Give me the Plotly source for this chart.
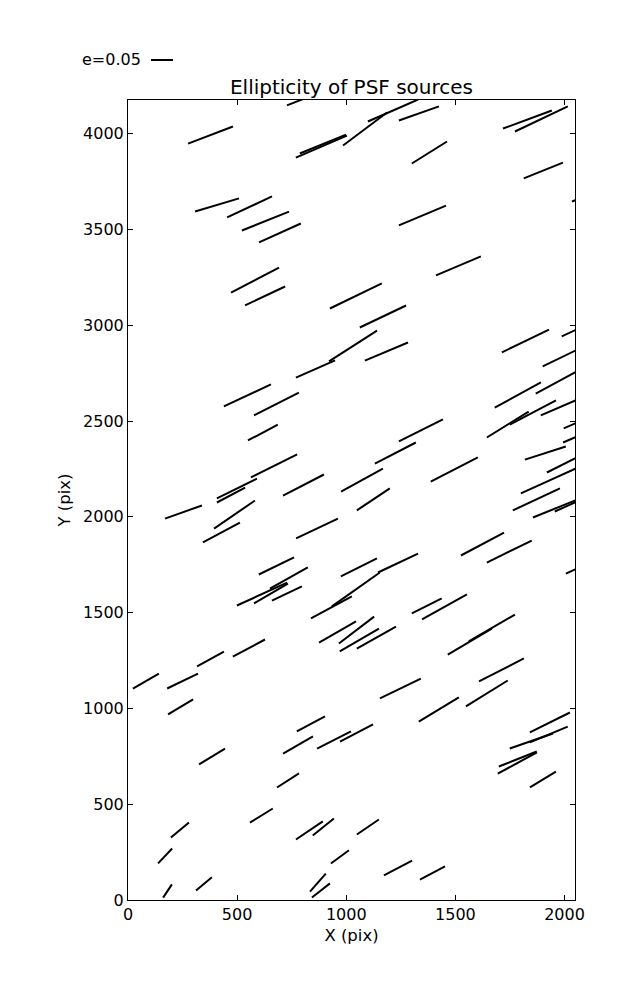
import plotly.graph_objects as go

# Source positions (pix) and ellipticity vector components (e*cos, e*sin of the whisker direction)
src_x = [378, 886, 893, 1086, 1214, 1333, 1830, 1894, 820, 1381, 1903, 2121, 408, 557, 630, 696, 1349,
         582, 628, 1044, 1514, 1168, 859, 1031, 1184, 1821, 2086, 2008, 1974, 1786, 1992, 1740, 1855,
         2079, 2089, 1912, 2020, 1931, 1871, 1958, 2047, 1342, 1225, 1072, 1124, 1495, 547, 680, 618,
         669, 472, 499, 804, 254, 488, 428, 866, 680, 614, 737, 655, 728, 1058, 932, 1044, 1237, 960,
         1047, 1060, 1138, 1369, 1450, 1566, 1667, 1624, 1747, 2098, 82, 250, 378, 554, 241, 1248,
         1711, 1424, 1644, 385, 838, 779, 944, 1047, 733, 611, 238, 170, 831, 895, 971, 181, 348, 870,
         884, 1933, 1848, 1928, 1786, 1784, 1901, 1099, 1237, 1395]
src_y = [3993, 3933, 3946, 4025, 4121, 4106, 4074, 4077, 4189, 3902, 3808, 3685, 3628, 3618, 3544, 3482,
         3573, 3236, 3153, 3153, 3310, 3046, 2772, 2892, 2863, 2918, 2994, 2845, 2709, 2636, 2579, 2482,
         2545, 2503, 2435, 2333, 2289, 2190, 2091, 2044, 2075, 2451, 2333, 2192, 2091, 2247, 2634, 2589,
         2440, 2266, 2114, 2148, 2166, 2025, 2012, 1918, 1939, 1744, 1597, 1681, 1600, 1600, 1736, 1527,
         1621, 1759, 1399, 1409, 1357, 1370, 1535, 1530, 1349, 1420, 1858, 1819, 1751, 1143, 1143, 1258,
         1315, 1008, 1104, 1201, 994, 1078, 749, 919, 809, 835, 872, 624, 441, 365, 230, 363, 381, 225,
         47, 84, 91, 50, 927, 830, 864, 736, 715, 629, 381, 167, 141]
e_x = [0.102, 0.116, 0.105, 0.100, 0.114, 0.091, 0.111, 0.120, 0.091, 0.080, 0.089, 0.086, 0.100, 0.102,
       0.107, 0.095, 0.107, 0.109, 0.091, 0.118, 0.102, 0.105, 0.089, 0.109, 0.098, 0.107, 0.098, 0.107,
       0.105, 0.105, 0.100, 0.095, 0.105, 0.082, 0.095, 0.093, 0.100, 0.130, 0.107, 0.102, 0.091, 0.100,
       0.093, 0.095, 0.075, 0.107, 0.107, 0.102, 0.068, 0.105, 0.064, 0.091, 0.093, 0.084, 0.093, 0.084,
       0.095, 0.080, 0.114, 0.086, 0.077, 0.068, 0.082, 0.093, 0.109, 0.091, 0.084, 0.080, 0.089, 0.089,
       0.068, 0.102, 0.100, 0.105, 0.098, 0.102, 0.091, 0.059, 0.070, 0.061, 0.073, 0.057, 0.093, 0.102,
       0.091, 0.095, 0.059, 0.064, 0.068, 0.077, 0.075, 0.050, 0.052, 0.041, 0.032, 0.061, 0.048, 0.041,
       0.020, 0.036, 0.036, 0.041, 0.091, 0.098, 0.086, 0.086, 0.089, 0.059, 0.050, 0.064, 0.057]
e_y = [0.039, 0.050, 0.043, 0.075, 0.050, 0.032, 0.041, 0.057, 0.036, 0.050, 0.036, 0.034, 0.030, 0.048,
       0.043, 0.043, 0.045, 0.057, 0.043, 0.057, 0.043, 0.050, 0.039, 0.070, 0.041, 0.052, 0.045, 0.052,
       0.057, 0.057, 0.043, 0.059, 0.055, 0.036, 0.041, 0.030, 0.050, 0.059, 0.050, 0.041, 0.041, 0.050,
       0.048, 0.052, 0.050, 0.055, 0.050, 0.052, 0.036, 0.052, 0.034, 0.045, 0.048, 0.030, 0.064, 0.045,
       0.045, 0.039, 0.052, 0.048, 0.045, 0.032, 0.041, 0.050, 0.077, 0.043, 0.048, 0.061, 0.052, 0.050,
       0.034, 0.057, 0.059, 0.061, 0.052, 0.050, 0.041, 0.034, 0.034, 0.034, 0.039, 0.034, 0.045, 0.052,
       0.055, 0.059, 0.036, 0.034, 0.039, 0.039, 0.039, 0.032, 0.032, 0.034, 0.034, 0.041, 0.039, 0.030,
       0.030, 0.030, 0.041, 0.032, 0.045, 0.034, 0.036, 0.034, 0.048, 0.036, 0.034, 0.034, 0.030]

x_ticks = [0, 500, 1000, 1500, 2000]
y_ticks = [0, 500, 1000, 1500, 2000, 2500, 3000, 3500, 4000]
X_MAX, Y_MAX = 2048, 4176
KEY_E = 0.05
KEY_LABEL = "e=0.05"

# page body has an 8px margin; size the figure to fill the rest of the window
W, H = 629, 992
ML, MR, MT, MB = 120, 62, 92, 100
plot_w = W - ML - MR
plot_h = H - MT - MB
px_x = plot_w / X_MAX
px_y = plot_h / Y_MAX
KEY_PX = 22.0
px_per_e = KEY_PX / KEY_E

xs, ys = [], []
for x, y, ex, ey in zip(src_x, src_y, e_x, e_y):
    hx = ex * px_per_e / 2 / px_x
    hy = ey * px_per_e / 2 / px_y
    xs += [x - hx, x + hx, None]
    ys += [y - hy, y + hy, None]

FONT = "DejaVu Sans"
fig = go.Figure()
fig.add_trace(go.Scatter(x=xs, y=ys, mode="lines", line=dict(color="black", width=2),
                         hoverinfo="skip", showlegend=False))

axis_common = dict(showline=True, linecolor="black", linewidth=1, mirror="ticks", ticks="inside",
                   ticklen=5, tickcolor="black", showgrid=False, zeroline=False,
                   tickfont=dict(family=FONT, size=16, color="black"))
fig.update_xaxes(range=[0, X_MAX], tickvals=x_ticks, ticktext=[str(v) for v in x_ticks],
                 title=dict(text="X (pix)", font=dict(family=FONT, size=16.5, color="black"), standoff=6),
                 **axis_common)
fig.update_yaxes(range=[0, Y_MAX], tickvals=y_ticks, ticktext=[str(v) for v in y_ticks],
                 title=dict(text="Y (pix)", font=dict(family=FONT, size=16.5, color="black"), standoff=8),
                 **axis_common)

# key
kx0 = 23 / plot_w
ky = 1 + 40 / plot_h
fig.add_shape(type="line", xref="paper", yref="paper", x0=kx0, x1=kx0 + KEY_PX / plot_w,
              y0=ky, y1=ky, line=dict(color="black", width=2))
fig.add_annotation(xref="paper", yref="paper", x=kx0 - 8 / plot_w, y=ky,
                   text=KEY_LABEL, showarrow=False, xanchor="right", yanchor="middle",
                   font=dict(family=FONT, size=16, color="black"))

fig.update_layout(
    width=W, height=H, margin=dict(l=ML, r=MR, t=MT, b=MB),
    paper_bgcolor="white", plot_bgcolor="white",
    title=dict(text="Ellipticity of PSF sources", x=0.5, xref="paper", xanchor="center",
               y=1 - 79 / H, yref="container", yanchor="middle",
               font=dict(family=FONT, size=20, color="black")),
)
fig.write_html("out.html")
